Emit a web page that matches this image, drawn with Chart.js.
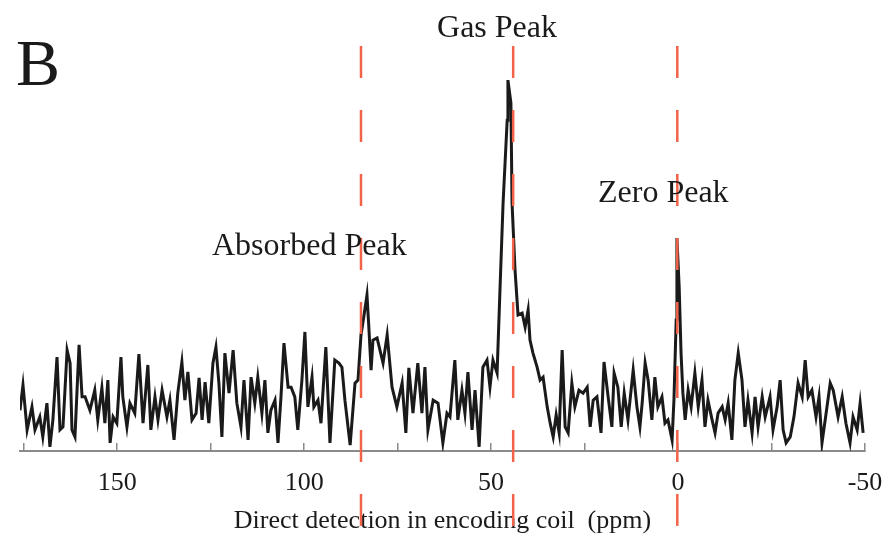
<!DOCTYPE html>
<html>
<head>
<meta charset="utf-8">
<script src="https://cdn.jsdelivr.net/npm/chart.js@4.4.1/dist/chart.umd.min.js"></script>
<style>
  html, body { margin: 0; padding: 0; background: #fff; }
  canvas { display: block; }
</style>
</head>
<body>
<canvas id="nmrChart" width="894" height="538"></canvas>
<script>
// chemical shift (ppm) and signal intensity (a.u., gas peak = 100)
var shiftPpm = [
  176.0, 175.2, 174.1, 172.8, 172.0, 170.7, 169.9, 168.8, 168.0, 167.2,
  166.1, 165.3, 164.5, 163.4, 162.6, 162.1, 161.3, 160.2, 159.4, 158.6,
  157.3, 156.0, 155.2, 154.1, 153.3, 152.5, 151.9, 151.1, 150.1, 149.0,
  148.5, 147.4, 146.6, 145.3, 144.2, 143.1, 141.8, 141.0, 139.9, 139.1,
  138.0, 136.7, 135.9, 134.8, 133.8, 132.7, 131.9, 131.1, 130.0, 128.9,
  128.1, 127.3, 126.5, 125.5, 124.4, 123.6, 122.8, 122.0, 121.2, 120.1,
  119.0, 118.0, 116.9, 116.1, 115.0, 114.2, 113.2, 112.4, 111.3, 110.5,
  109.7, 108.9, 107.8, 107.0, 106.2, 105.4, 104.3, 103.5, 102.5, 101.7,
  100.6, 99.8, 99.0, 97.9, 97.4, 96.3, 95.5, 94.2, 93.1, 91.8,
  90.7, 89.9, 89.1, 87.7, 86.4, 85.6, 84.8, 84.3, 83.2, 82.7,
  82.1, 81.6, 80.5, 78.9, 77.8, 76.5, 75.2, 73.8, 72.8, 72.0,
  70.9, 69.6, 68.5, 67.7, 66.9, 65.5, 64.2, 62.9, 61.8, 61.0,
  59.7, 58.9, 57.8, 57.0, 56.2, 55.1, 54.3, 53.2, 52.2, 51.1,
  50.3, 49.5, 48.4, 47.6, 46.8, 45.7, 45.5, 44.7, 44.4, 43.6,
  42.8, 41.7, 40.9, 40.1, 39.6, 38.8, 37.7, 36.9, 36.1, 35.0,
  34.2, 33.4, 32.6, 31.8, 31.0, 30.2, 29.4, 28.4, 27.6, 26.5,
  25.4, 24.3, 23.5, 22.7, 21.7, 20.6, 19.8, 18.7, 17.7, 17.1,
  16.1, 15.2, 14.4, 13.4, 12.0, 11.0, 10.2, 9.6, 8.8, 8.0,
  7.0, 6.2, 5.4, 4.3, 3.5, 2.7, 1.6, 1.1, 0.5, 0.3,
  -0.3, -0.8, -1.3, -1.9, -2.7, -3.5, -4.5, -5.4, -6.4, -7.2,
  -8.0, -9.1, -9.9, -10.7, -11.8, -12.6, -13.4, -14.4, -15.2, -16.1,
  -17.1, -17.9, -18.7, -19.8, -20.6, -21.4, -22.5, -23.3, -24.6, -25.4,
  -26.5, -27.3, -28.1, -28.9, -30.0, -31.0, -32.1, -33.2, -34.0, -34.8,
  -35.8, -36.9, -37.7, -38.5, -39.6, -40.7, -41.5, -42.8, -43.9, -44.9,
  -46.0, -46.8, -47.9, -48.7, -49.5
];
var intensity = [
  11.0, 17.8, 5.7, 11.9, 5.7, 9.2, 3.8, 12.9, 1.1, 8.4,
  25.3, 5.7, 6.5, 27.2, 23.7, 5.7, 3.8, 28.6, 14.6, 14.6,
  11.0, 16.4, 8.4, 17.0, 7.5, 19.1, 2.2, 9.2, 7.5, 25.3,
  14.6, 6.5, 12.9, 10.2, 26.1, 7.5, 23.2, 5.7, 14.6, 8.4,
  16.4, 9.2, 13.7, 3.0, 15.6, 24.0, 13.7, 21.3, 8.4, 10.2,
  19.7, 8.4, 18.6, 7.5, 23.7, 28.0, 18.3, 3.8, 26.4, 15.6,
  27.2, 12.9, 6.5, 19.1, 3.0, 19.9, 12.9, 19.9, 10.2, 19.1,
  4.9, 11.0, 13.7, 2.2, 14.6, 29.1, 17.2, 17.2, 14.6, 5.7,
  19.1, 32.1, 11.9, 19.9, 11.9, 13.7, 7.5, 28.0, 2.2, 24.5,
  23.7, 22.6, 13.7, 1.6, 18.3, 19.1, 31.3, 34.5, 42.0, 33.4,
  21.8, 29.9, 30.5, 23.7, 31.3, 17.2, 11.9, 18.3, 4.9, 22.4,
  10.2, 23.7, 10.2, 22.6, 5.7, 13.7, 12.9, 2.2, 10.2, 9.2,
  24.5, 8.4, 16.4, 10.2, 21.3, 5.7, 16.4, 1.1, 22.6, 24.5,
  17.2, 24.5, 21.0, 44.2, 66.8, 89.2, 100.0, 93.8, 66.8, 48.8,
  36.7, 37.2, 33.4, 38.0, 29.9, 26.4, 22.6, 19.1, 19.9, 11.9,
  7.5, 3.8, 9.7, 4.9, 27.2, 6.5, 4.9, 18.3, 11.9, 16.4,
  15.6, 17.2, 6.5, 13.7, 14.6, 4.9, 24.0, 14.6, 6.5, 21.0,
  17.2, 6.5, 15.6, 8.4, 21.8, 11.9, 6.5, 12.9, 23.7, 19.1,
  8.4, 19.9, 11.9, 14.6, 7.5, 8.4, 3.0, 13.7, 35.3, 57.4,
  44.2, 26.4, 15.6, 8.4, 16.4, 11.9, 21.0, 11.9, 19.1, 6.5,
  13.7, 8.4, 4.9, 10.2, 11.9, 8.4, 12.9, 3.0, 19.1, 26.4,
  19.1, 6.5, 13.7, 4.9, 14.6, 6.5, 14.6, 9.2, 14.6, 5.7,
  11.9, 19.1, 5.7, 2.2, 3.8, 9.2, 18.3, 14.6, 24.5, 14.6,
  16.4, 9.2, 14.6, 2.2, 10.2, 18.3, 16.4, 9.2, 14.6, 7.5,
  2.2, 9.2, 5.7, 12.9, 4.9
];
var peakShifts = [84.8, 44.1, 0.2];
var tickValues = [-50, -25, 0, 25, 50, 75, 100, 125, 150, 175];
var labelledTicks = [150, 100, 50, 0, -50];

var serif = "'Liberation Serif', 'Times New Roman', 'DejaVu Serif', serif";
var ink = '#1a1a1a';
var axisGrey = '#8a8a8a';
var dashRed = '#f2644a';

var spectrum = shiftPpm.map(function(x, i) { return { x: x, y: intensity[i] }; });

// reference lines run from above the plot down past the axis title
var dashedSets = peakShifts.map(function(p) {
    return {
        data: [{ x: p, y: 109.2 }, { x: p, y: -20.2 }],
        borderColor: dashRed,
        borderWidth: 2.5,
        borderDash: [32, 32],
        pointRadius: 0,
        clip: false,
        order: 0
    };
});

// text annotations
var notes = {
    id: 'notes',
    afterDraw: function(chart) {
        var ctx = chart.ctx;
        ctx.save();
        ctx.fillStyle = ink;
        ctx.textBaseline = 'alphabetic';
        ctx.font = '66px ' + serif;
        ctx.textAlign = 'left';
        ctx.fillText('B', 16, 85);
        ctx.font = '32px ' + serif;
        ctx.textAlign = 'center';
        ctx.fillText('Gas Peak', 497, 37);
        ctx.textAlign = 'left';
        ctx.fillText('Zero Peak', 598, 202);
        ctx.fillText('Absorbed Peak', 212, 255);
        ctx.restore();
    }
};

var ctx = document.getElementById('nmrChart').getContext('2d');
var nmrChart = new Chart(ctx, {
    type: 'line',
    data: {
        datasets: dashedSets.concat([{
            data: spectrum,
            borderColor: ink,
            borderWidth: 3,
            pointRadius: 0,
            tension: 0,
            order: 1
        }])
    },
    options: {
        responsive: false,
        animation: false,
        devicePixelRatio: 1,
        layout: { padding: { left: 20, right: 29, top: 46, bottom: 0 } },
        plugins: {
            legend: { display: false },
            tooltip: { enabled: false }
        },
        scales: {
            x: {
                type: 'linear',
                reverse: true,
                min: -50,
                max: 176,
                afterBuildTicks: function(scale) {
                    scale.ticks = tickValues.map(function(v) { return { value: v }; });
                },
                afterFit: function(scale) { scale.height = 87; },
                border: { display: true, color: axisGrey, width: 2 },
                grid: {
                    drawOnChartArea: false,
                    drawTicks: true,
                    tickLength: -8,
                    color: axisGrey,
                    lineWidth: 1.5
                },
                ticks: {
                    autoSkip: false,
                    maxRotation: 0,
                    padding: 25,
                    color: ink,
                    font: { family: serif, size: 26 },
                    callback: function(v) {
                        return labelledTicks.indexOf(v) >= 0 ? String(v) : '';
                    }
                },
                title: {
                    display: true,
                    text: 'Direct detection in encoding coil  (ppm)',
                    color: ink,
                    font: { family: serif, size: 26 },
                    padding: { top: 0, bottom: 1 }
                }
            },
            y: {
                display: false,
                min: 0,
                max: 109.2
            }
        }
    },
    plugins: [notes]
});
</script>
</body>
</html>
